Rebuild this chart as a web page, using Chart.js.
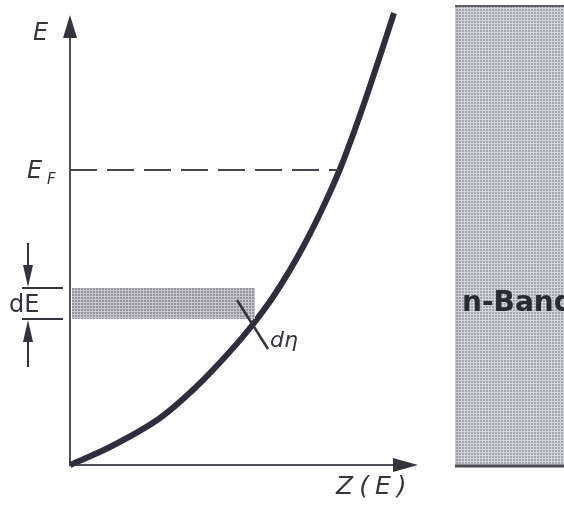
<!DOCTYPE html>
<html>
<head>
<meta charset="utf-8">
<script src="https://cdn.jsdelivr.net/npm/chart.js@4.4.1/dist/chart.umd.min.js"></script>
<style>
  html, body { margin: 0; padding: 0; background: #fff; }
  canvas { display: block; }
</style>
</head>
<body>
<canvas id="myChart" width="564" height="505"></canvas>
<script>
// Z(E) curve (Z across, E up)
const zValues = [0, 0.4, 0.9, 1.25, 1.55, 1.8, 2.05, 2.33, 2.55, 2.70, 2.84, 2.98, 3.12, 3.24];
const eValues = [0, 0.18, 0.47, 0.77, 1.08, 1.37, 1.71, 2.18, 2.62, 2.96, 3.33, 3.73, 4.15, 4.52];

// Fermi level and the dE slice
const fermiE = [2.95];
const fermiZ = [0, 2.69];
const bandE = [1.46, 1.77];
const bandZ = [0.02, 1.85];

// axis ends and labels
const axisMax = [3.48, 4.5];
const axisLabels = ["E", "Z(E)", "F", "dE", "dη", "n-Band"];

const ink = "#34343f";
const ctx = document.getElementById("myChart");
const c2d = ctx.getContext("2d");

// halftone look of the print
function halftone(bg, dot) {
  const p = document.createElement("canvas");
  p.width = 3; p.height = 3;
  const g = p.getContext("2d");
  g.fillStyle = bg; g.fillRect(0, 0, 3, 3);
  g.fillStyle = dot; g.fillRect(0, 0, 2, 2);
  return c2d.createPattern(p, "repeat");
}
const bandFill = halftone("#c6c6cc", "#94949e");
const panelFill = halftone("#d4d4dc", "#a6a6b2");

function arrow(g, x, y, dx, dy, len, half) {
  // tip at (x,y), pointing along (dx,dy)
  const bx = x - dx * len, by = y - dy * len;
  g.beginPath();
  g.moveTo(x, y);
  g.lineTo(bx - dy * half, by + dx * half);
  g.lineTo(bx + dy * half, by - dx * half);
  g.closePath();
  g.fill();
}

const figure = {
  id: "figure",
  beforeDatasetsDraw(chart) {
    const g = chart.ctx;
    const x = chart.scales.x, y = chart.scales.y;
    const x0 = x.getPixelForValue(0), y0 = y.getPixelForValue(0);
    const xEnd = x.getPixelForValue(axisMax[0]), yEnd = y.getPixelForValue(axisMax[1]);
    g.save();

    // right hand panel
    g.fillStyle = panelFill;
    g.fillRect(455, 6, 120, 461);
    g.fillStyle = "rgba(120,120,132,0.15)";
    g.fillRect(455, 6, 5, 461);
    g.strokeStyle = "#60606a";
    g.lineWidth = 2;
    g.beginPath(); g.moveTo(455, 6); g.lineTo(564, 6); g.stroke();
    g.strokeStyle = "#4a4a55";
    g.lineWidth = 3;
    g.beginPath(); g.moveTo(455, 466); g.lineTo(564, 466); g.stroke();

    // axes
    g.strokeStyle = "#50505a";
    g.fillStyle = ink;
    g.lineWidth = 2;
    g.beginPath();
    g.moveTo(x0, yEnd + 10); g.lineTo(x0, y0);
    g.lineTo(xEnd - 10, y0);
    g.stroke();
    arrow(g, x0, yEnd, 0, -1, 23, 7);
    arrow(g, xEnd, y0, 1, 0, 25, 7);
    g.restore();
  },
  afterDatasetsDraw(chart) {
    const g = chart.ctx;
    const x = chart.scales.x, y = chart.scales.y;
    const x0 = x.getPixelForValue(0);
    const yLo = y.getPixelForValue(bandE[0]), yHi = y.getPixelForValue(bandE[1]);
    const yF = y.getPixelForValue(fermiE[0]);
    g.save();
    g.fillStyle = ink;
    g.strokeStyle = ink;
    g.textBaseline = "middle";

    // dE markers
    g.lineWidth = 2;
    g.beginPath();
    g.moveTo(22, yHi); g.lineTo(x0 - 7, yHi);
    g.moveTo(22, yLo); g.lineTo(x0 - 7, yLo);
    g.moveTo(28, yHi - 45); g.lineTo(28, yHi - 18);
    g.moveTo(28, yLo + 18); g.lineTo(28, yLo + 48);
    g.stroke();
    arrow(g, 28, yHi - 1, 0, 1, 22, 5);
    arrow(g, 28, yLo + 1, 0, -1, 22, 5);

    // dη tick across the curve
    g.lineWidth = 2.5;
    g.beginPath(); g.moveTo(237, 300); g.lineTo(268, 349); g.stroke();

    // labels
    g.font = "italic 24px 'DejaVu Sans'";
    g.fillText(axisLabels[0], 33, 34);
    g.fillText(axisLabels[0], 27, yF + 2);
    g.font = "italic 15px 'DejaVu Sans'";
    g.fillText(axisLabels[2], 47, yF + 10);
    g.font = "24px 'DejaVu Sans'";
    g.fillText(axisLabels[3], 9, (yLo + yHi) / 2 + 2);
    g.font = "italic 22px 'DejaVu Sans'";
    g.fillText(axisLabels[4], 270, 341);
    g.font = "italic 25px 'DejaVu Sans'";
    g.letterSpacing = "6px";
    g.fillText(axisLabels[1], 336, 487);
    g.letterSpacing = "0px";
    g.font = "bold 28px 'DejaVu Sans'";
    g.fillStyle = "#2a2a36";
    g.fillText(axisLabels[5], 462, 304);
    g.restore();
  }
};

new Chart(ctx, {
  type: "scatter",
  data: {
    datasets: [
      {
        // top edge of dE slice
        data: [{ x: bandZ[0], y: bandE[1] }, { x: bandZ[1], y: bandE[1] }],
        showLine: true,
        borderWidth: 0,
        pointRadius: 0,
        fill: false
      },
      {
        // bottom edge, filled up to the top edge
        data: [{ x: bandZ[0], y: bandE[0] }, { x: bandZ[1], y: bandE[0] }],
        showLine: true,
        borderWidth: 0,
        pointRadius: 0,
        backgroundColor: bandFill,
        fill: "-1"
      },
      {
        // Fermi level
        data: fermiZ.map(z => ({ x: z, y: fermiE[0] })),
        showLine: true,
        borderColor: "#45454f",
        borderWidth: 2,
        borderDash: [27, 10],
        pointRadius: 0
      },
      {
        data: zValues.map((z, i) => ({ x: z, y: eValues[i] })),
        showLine: true,
        borderColor: "#2e2e3e",
        borderWidth: 6,
        pointRadius: 0,
        cubicInterpolationMode: "monotone",
        clip: false
      }
    ]
  },
  options: {
    responsive: false,
    animation: false,
    layout: { padding: { left: 70, right: 149, top: 10, bottom: 40 } },
    plugins: { legend: { display: false }, tooltip: { enabled: false } },
    scales: {
      x: { type: "linear", min: 0, max: 3.45, display: false },
      y: { type: "linear", min: 0, max: 4.55, display: false }
    }
  },
  plugins: [figure]
});
</script>
</body>
</html>
